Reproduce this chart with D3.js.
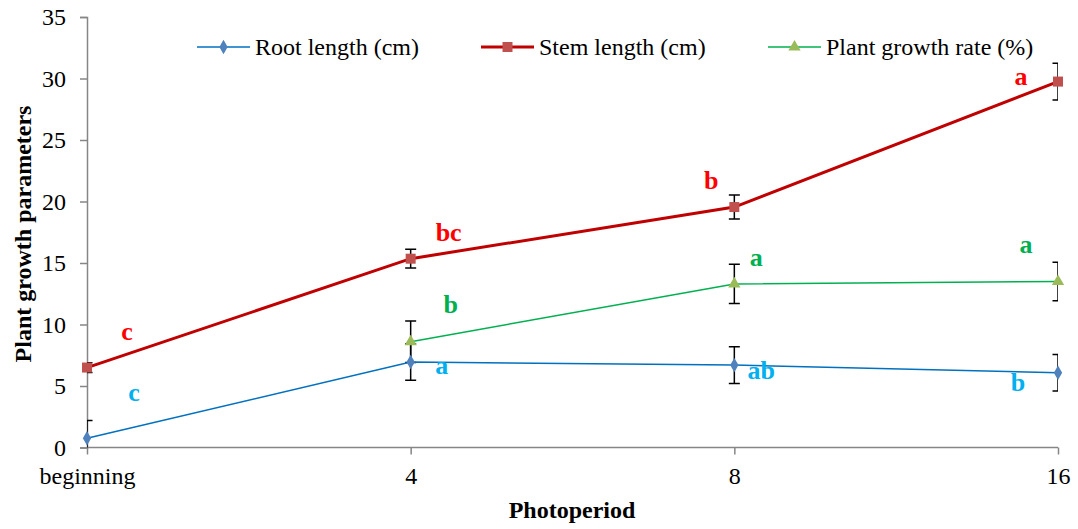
<!DOCTYPE html>
<html>
<head>
<meta charset="utf-8">
<script src="https://cdn.jsdelivr.net/npm/d3@7"></script>
</head>
<body style="margin:0">
<script>
var w = 1078;
var h = 529;
var font = "Liberation Serif";

// data
var periods = ["beginning", "4", "8", "16"];
var rootLength = [0.75, 6.95, 6.7, 6.08];
var rootErr = [1.45, 1.49, 1.49, 1.49];
var stemLength = [6.5, 15.35, 19.55, 29.75];
var stemErr = [0.4, 0.76, 0.97, 1.49];
var growthRate = [null, 8.6, 13.3, 13.5];
var growthErr = [null, 1.68, 1.6, 1.57];
var rootLetters = ["c", "a", "ab", "b"];
var stemLetters = ["c", "bc", "b", "a"];
var growthLetters = [null, "b", "a", "a"];
var yTicks = [0, 5, 10, 15, 20, 25, 30, 35];

var x = d3.scalePoint().domain(periods).range([87, 1058]);
var y = d3.scaleLinear().domain([0, 35]).range([447.5, 17]);

var svg = d3.select("body").append("svg")
    .attr("width", w)
    .attr("height", h);

svg.append("defs").append("clipPath").attr("id", "plot")
   .append("rect")
   .attr("x", 87).attr("y", 17)
   .attr("width", 1058 - 87).attr("height", 447.5 - 17);

// axes
var yAxis = d3.axisLeft(y).tickValues(yTicks).tickSize(7).tickSizeOuter(7).tickPadding(14);
var gy = svg.append("g").attr("transform", "translate(87,0)").call(yAxis);
gy.attr("font-family", font);
gy.selectAll("path, line").attr("stroke", "#868686").attr("stroke-width", 1.5);
gy.selectAll("text").attr("font-family", font).attr("font-size", 24).attr("fill", "#000");

var xAxis = d3.axisBottom(x).tickSize(7).tickSizeOuter(0).tickPadding(12);
var gx = svg.append("g").attr("transform", "translate(0,447.5)").call(xAxis);
gx.attr("font-family", font);
gx.select(".domain").attr("d", "M87,0H1058").attr("stroke", "#868686").attr("stroke-width", 1.5);
gx.selectAll("line").attr("stroke", "#868686").attr("stroke-width", 1.5);
gx.selectAll("text").attr("font-family", font).attr("font-size", 24).attr("fill", "#000");

// axis titles
svg.append("text")
   .attr("x", 572).attr("y", 518)
   .attr("text-anchor", "middle")
   .attr("font-family", font).attr("font-size", 24).attr("font-weight", "bold")
   .text("Photoperiod");

svg.append("text")
   .attr("transform", "rotate(-90)")
   .attr("x", -234).attr("y", 31)
   .attr("text-anchor", "middle")
   .attr("font-family", font).attr("font-size", 24).attr("font-weight", "bold")
   .text("Plant growth parameters");

var series = [
  { name: "Root length (cm)", vals: rootLength, err: rootErr, letters: rootLetters,
    line: "#0070C0", lw: 1.5, fill: "#4F81BD", shape: d3.symbolDiamond, size: 60, letterColor: "#00B0F0",
    offs: [[47, -37], [31, 12], [27, 14], [-40, 18]] },
  { name: "Stem length (cm)", vals: stemLength, err: stemErr, letters: stemLetters,
    line: "#C00000", lw: 3, fill: "#C0504D", shape: d3.symbolSquare, size: 100, letterColor: "#FF0000",
    offs: [[40, -28], [38, -18], [-23, -18], [-37, 3]] },
  { name: "Plant growth rate (%)", vals: growthRate, err: growthErr, letters: growthLetters,
    line: "#00B050", lw: 1.5, fill: "#9BBB59", shape: d3.symbolTriangle, size: 65, letterColor: "#00B050",
    offs: [[0, 0], [40, -29], [22, -18], [-32, -28]] }
];

// error bars go underneath lines and markers
var bars = svg.append("g").attr("clip-path", "url(#plot)");
var plot = svg.append("g");

series.forEach(function(s) {
  var pts = periods.map(function(p, i) {
    return { p: p, v: s.vals[i], e: s.err[i], l: s.letters[i], o: s.offs[i] };
  }).filter(function(d) { return d.v !== null; });

  var eb = bars.selectAll(null).data(pts).enter().append("g")
      .attr("stroke", "#000").attr("stroke-width", 1.5);
  eb.append("line")
    .attr("x1", function(d) { return x(d.p); }).attr("x2", function(d) { return x(d.p); })
    .attr("y1", function(d) { return y(d.v - d.e); }).attr("y2", function(d) { return y(d.v + d.e); });
  eb.append("line")
    .attr("x1", function(d) { return x(d.p) - 5.5; }).attr("x2", function(d) { return x(d.p) + 5.5; })
    .attr("y1", function(d) { return y(d.v + d.e); }).attr("y2", function(d) { return y(d.v + d.e); });
  eb.append("line")
    .attr("x1", function(d) { return x(d.p) - 5.5; }).attr("x2", function(d) { return x(d.p) + 5.5; })
    .attr("y1", function(d) { return y(d.v - d.e); }).attr("y2", function(d) { return y(d.v - d.e); });

  var line = d3.line()
      .x(function(d) { return x(d.p); })
      .y(function(d) { return y(d.v); });
  plot.append("path").datum(pts)
      .attr("d", line)
      .attr("fill", "none")
      .attr("stroke", s.line)
      .attr("stroke-width", s.lw);

  s.pts = pts;
});

// markers and letters on top
series.forEach(function(s) {
  plot.selectAll(null).data(s.pts).enter().append("path")
      .attr("d", d3.symbol().type(s.shape).size(s.size))
      .attr("transform", function(d) { return "translate(" + x(d.p) + "," + y(d.v) + ")"; })
      .attr("fill", s.fill);

  plot.selectAll(null).data(s.pts).enter().append("text")
      .attr("x", function(d) { return x(d.p) + d.o[0]; })
      .attr("y", function(d) { return y(d.v) + d.o[1]; })
      .attr("text-anchor", "middle")
      .attr("font-family", font).attr("font-size", 26).attr("font-weight", "bold")
      .attr("fill", s.letterColor)
      .text(function(d) { return d.l; });
});

// legend
var legX = [197, 481, 768];
var leg = svg.append("g");
series.forEach(function(s, i) {
  var g = leg.append("g").attr("transform", "translate(" + legX[i] + ",47)");
  g.append("line").attr("x1", 0).attr("x2", 53).attr("y1", 0).attr("y2", 0)
   .attr("stroke", s.line).attr("stroke-width", s.lw);
  g.append("path").attr("d", d3.symbol().type(s.shape).size(s.size))
   .attr("transform", "translate(26.5,0)").attr("fill", s.fill);
  g.append("text").attr("x", 58).attr("y", 8)
   .attr("font-family", font).attr("font-size", 24).attr("fill", "#000")
   .text(s.name);
});
</script>
</body>
</html>
